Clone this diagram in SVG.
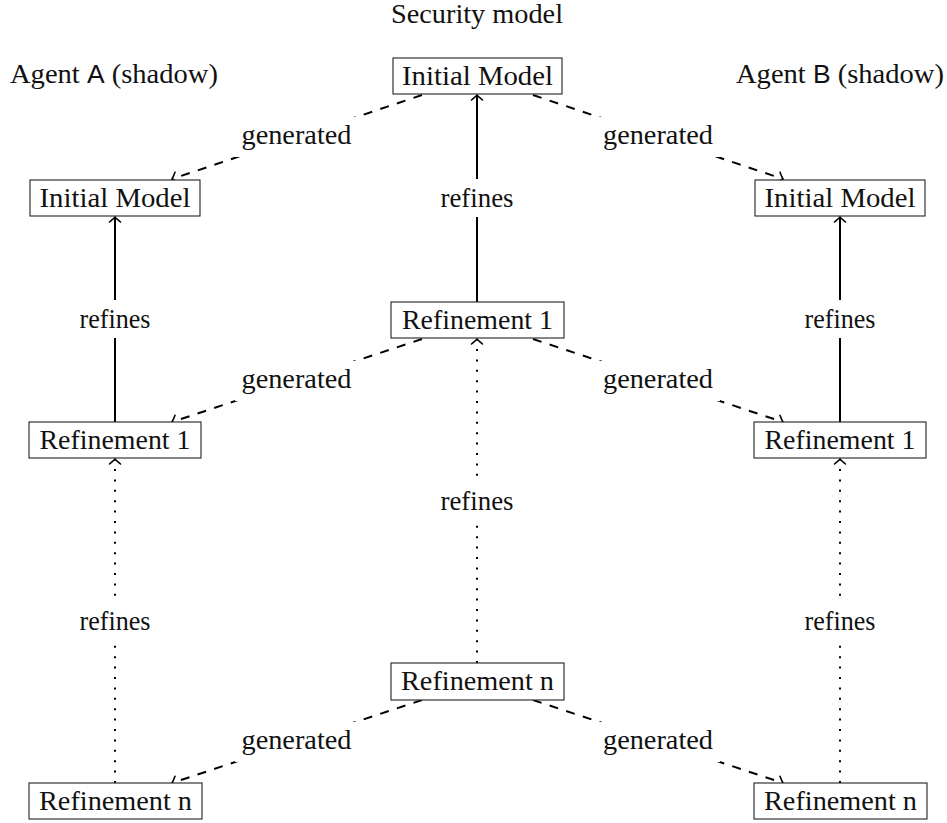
<svg xmlns="http://www.w3.org/2000/svg" width="947" height="823" viewBox="0 0 947 823">
<style>
text{font-family:"Liberation Serif","Times New Roman",serif;font-size:27px;fill:#111;text-anchor:middle}
.sf{font-family:"Liberation Sans",Arial,sans-serif;font-size:25px}
.box{fill:#fff;stroke:#222;stroke-width:1.1}
.c{fill:none;stroke:#000;stroke-width:2}
.dash{stroke-dasharray:9 8.5}
.dot{stroke-dasharray:2 8.4}
.bg{fill:#fff;stroke:none}
</style>
<defs>
<marker id="arr" viewBox="-7 -7 14 14" markerWidth="14" markerHeight="14" markerUnits="userSpaceOnUse" orient="auto" refX="0" refY="0" overflow="visible">
<path d="M -5 -5.5 Q -1.6 -1.3 0 0 Q -1.6 1.3 -5 5.5" fill="none" stroke="#000" stroke-width="1.6" stroke-dasharray="none" stroke-linecap="round"/>
</marker>
</defs>
<text x="477" y="23" textLength="172" lengthAdjust="spacingAndGlyphs">Security model</text>
<text x="114" y="83" textLength="208" lengthAdjust="spacingAndGlyphs">Agent <tspan class="sf">A</tspan> (shadow)</text>
<text x="840" y="83" textLength="208" lengthAdjust="spacingAndGlyphs">Agent <tspan class="sf">B</tspan> (shadow)</text>
<g id="connectors">
<path class="c" d="M477 302 V95" marker-end="url(#arr)"/>
<path class="c" d="M115 422 V217" marker-end="url(#arr)"/>
<path class="c" d="M840 422 V217" marker-end="url(#arr)"/>
<path class="c dot" d="M477 663 V339" marker-end="url(#arr)"/>
<path class="c dot" d="M115 783 V459" marker-end="url(#arr)"/>
<path class="c dot" d="M840 783 V459" marker-end="url(#arr)"/>
<path class="c dash" d="M422 95 L172 179" marker-end="url(#arr)"/>
<path class="c dash" d="M533 95 L783 179" marker-end="url(#arr)"/>
<path class="c dash" d="M422 339 L172 422" marker-end="url(#arr)"/>
<path class="c dash" d="M533 339 L783 422" marker-end="url(#arr)"/>
<path class="c dash" d="M422 700 L172 783" marker-end="url(#arr)"/>
<path class="c dash" d="M533 700 L783 783" marker-end="url(#arr)"/>
<rect class="bg" x="437" y="179" width="80" height="38"/>
<text x="477" y="207" textLength="73" lengthAdjust="spacingAndGlyphs">refines</text>
<rect class="bg" x="75" y="300" width="80" height="38"/>
<text x="115" y="328" textLength="71" lengthAdjust="spacingAndGlyphs">refines</text>
<rect class="bg" x="800" y="300" width="80" height="38"/>
<text x="840" y="328" textLength="71" lengthAdjust="spacingAndGlyphs">refines</text>
<rect class="bg" x="437" y="480" width="80" height="41"/>
<text x="477" y="510" textLength="73" lengthAdjust="spacingAndGlyphs">refines</text>
<rect class="bg" x="75" y="599" width="80" height="41"/>
<text x="115" y="630" textLength="71" lengthAdjust="spacingAndGlyphs">refines</text>
<rect class="bg" x="800" y="599" width="80" height="41"/>
<text x="840" y="630" textLength="71" lengthAdjust="spacingAndGlyphs">refines</text>
<rect class="bg" x="235" y="117" width="124" height="40"/>
<text x="296.5" y="144" textLength="110" lengthAdjust="spacingAndGlyphs">generated</text>
<rect class="bg" x="596" y="117" width="124" height="40"/>
<text x="658" y="144" textLength="110" lengthAdjust="spacingAndGlyphs">generated</text>
<rect class="bg" x="235" y="361" width="124" height="40"/>
<text x="296.5" y="388" textLength="110" lengthAdjust="spacingAndGlyphs">generated</text>
<rect class="bg" x="596" y="361" width="124" height="40"/>
<text x="658" y="388" textLength="110" lengthAdjust="spacingAndGlyphs">generated</text>
<rect class="bg" x="235" y="722" width="124" height="40"/>
<text x="296.5" y="749" textLength="110" lengthAdjust="spacingAndGlyphs">generated</text>
<rect class="bg" x="596" y="722" width="124" height="40"/>
<text x="658" y="749" textLength="110" lengthAdjust="spacingAndGlyphs">generated</text>
</g>
<g id="sec-initial"><rect class="box" x="393" y="58" width="169" height="36"/><text x="477.5" y="85" textLength="151" lengthAdjust="spacingAndGlyphs">Initial Model</text></g>
<g id="a-initial"><rect class="box" x="30" y="180" width="170" height="36"/><text x="115" y="207" textLength="151" lengthAdjust="spacingAndGlyphs">Initial Model</text></g>
<g id="b-initial"><rect class="box" x="755" y="180" width="170" height="36"/><text x="840" y="207" textLength="151" lengthAdjust="spacingAndGlyphs">Initial Model</text></g>
<g id="sec-ref1"><rect class="box" x="391" y="302" width="173" height="36"/><text x="477.5" y="329" textLength="151" lengthAdjust="spacingAndGlyphs">Refinement 1</text></g>
<g id="a-ref1"><rect class="box" x="29" y="422" width="172" height="36"/><text x="115" y="449" textLength="151" lengthAdjust="spacingAndGlyphs">Refinement 1</text></g>
<g id="b-ref1"><rect class="box" x="754" y="422" width="172" height="36"/><text x="840" y="449" textLength="151" lengthAdjust="spacingAndGlyphs">Refinement 1</text></g>
<g id="sec-refn"><rect class="box" x="391" y="663" width="173" height="37"/><text x="477.5" y="690" textLength="153" lengthAdjust="spacingAndGlyphs">Refinement n</text></g>
<g id="a-refn"><rect class="box" x="29" y="783" width="173" height="36"/><text x="115.5" y="810" textLength="153" lengthAdjust="spacingAndGlyphs">Refinement n</text></g>
<g id="b-refn"><rect class="box" x="754" y="783" width="173" height="36"/><text x="840.5" y="810" textLength="153" lengthAdjust="spacingAndGlyphs">Refinement n</text></g>
</svg>
